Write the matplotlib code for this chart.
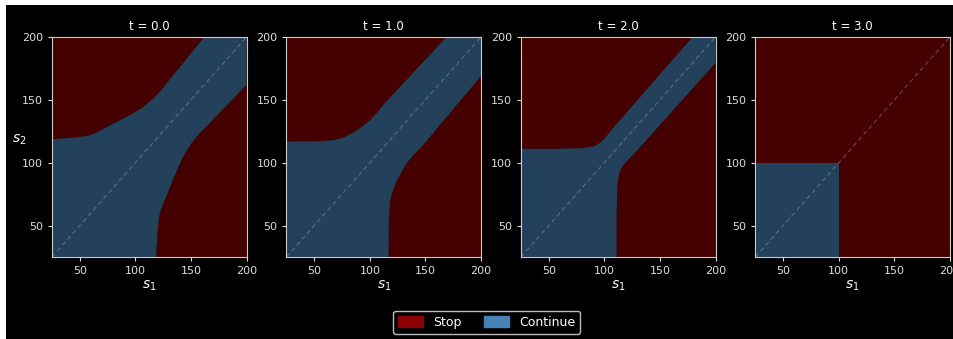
import numpy as np
import matplotlib
matplotlib.use("Agg")
import matplotlib.pyplot as plt
from matplotlib.patches import Patch, Rectangle

# time steps shown in the panels
times = [0.0, 1.0, 2.0, 3.0]

# lower/right edge of the "continue" band (s1, s2)
# the upper/left edge is the same curve mirrored in the diagonal
edge_t0_s1 = [118.6, 120, 121.3, 123, 130, 136.3, 143, 150.6, 158, 167, 200]
edge_t0_s2 = [25, 45, 57, 62.6, 78, 91.8, 105, 115.7, 123.6, 131.6, 162]

edge_t1_s1 = [116.8, 117, 118, 119.8, 124.3, 133, 140.8, 146.8, 200]
edge_t1_s2 = [25, 54, 68, 75.5, 86, 99.5, 107.5, 112.8, 169]

edge_t2_s1 = [111, 111, 111.6, 113.4, 116.4, 121.5, 127.4, 200]
edge_t2_s2 = [25, 57, 81, 91.8, 97.1, 102.4, 107.7, 179.3]

# at t = 3 continue only inside the square s1, s2 < strike
strike_t3 = 100

edges = [(edge_t0_s1, edge_t0_s2), (edge_t1_s1, edge_t1_s2), (edge_t2_s1, edge_t2_s2)]

lo, hi = 25, 200
stop_col = 'darkred'
cont_col = 'steelblue'

plt.rcParams['font.family'] = 'DejaVu Sans'
fig = plt.figure(figsize=(9.54, 3.39), dpi=100, facecolor='white')
fig.patches.append(Rectangle((6 / 954, 0), 1, 1 - 5 / 339, transform=fig.transFigure,
                             facecolor='black', edgecolor='none', zorder=-10))
axes = fig.subplots(1, 4)
fig.subplots_adjust(left=0.0545, right=0.9958, top=0.891, bottom=0.242, wspace=0.205)

for i, ax in enumerate(axes):
    ax.set_facecolor('black')
    ax.fill([lo, hi, hi, lo], [lo, lo, hi, hi], color=stop_col, alpha=0.5, lw=0)
    if i < 3:
        e1, e2 = edges[i]
        # upper edge = mirror of lower edge, from left side up to the top
        px = [lo] + list(e2) + [hi] + list(e1[::-1])
        py = [lo] + list(e1) + [hi] + list(e2[::-1])
    else:
        k = strike_t3
        px = [lo, k, k, lo]
        py = [lo, lo, k, k]
    # blank the stop colour under the continue region first
    ax.fill(px, py, color='black', lw=0)
    ax.fill(px, py, color=cont_col, alpha=0.5, lw=0)
    ax.plot([lo, hi], [lo, hi], ls=(0, (4, 3)), color='#aab4c0', lw=0.8, alpha=0.4)

    ax.set_xlim(lo, hi)
    ax.set_ylim(lo, hi)
    ax.set_xticks([50, 100, 150, 200])
    ax.set_yticks([50, 100, 150, 200])
    ax.tick_params(colors='#dddddd', labelsize=8, length=3)
    for sp in ax.spines.values():
        sp.set_color('#cccccc')
    ax.set_title('t = %.1f' % times[i], color='white', fontsize=8.5, pad=5)
    ax.set_xlabel('$s_1$', color='white', fontsize=10, labelpad=2)

axes[0].set_ylabel('$s_2$', color='white', fontsize=10, rotation=0, labelpad=2)

handles = [Patch(color=stop_col, label='Stop'), Patch(color=cont_col, label='Continue')]
leg = fig.legend(handles=handles, loc='lower center', bbox_to_anchor=(0.51, 0.015), ncol=2,
                 facecolor='black', edgecolor='#bbbbbb', fontsize=9, framealpha=1,
                 borderaxespad=0, handlelength=2.0, handleheight=0.9, columnspacing=1.8)
for txt in leg.get_texts():
    txt.set_color('white')

fig.savefig('out.png', dpi=100, facecolor=fig.get_facecolor())
